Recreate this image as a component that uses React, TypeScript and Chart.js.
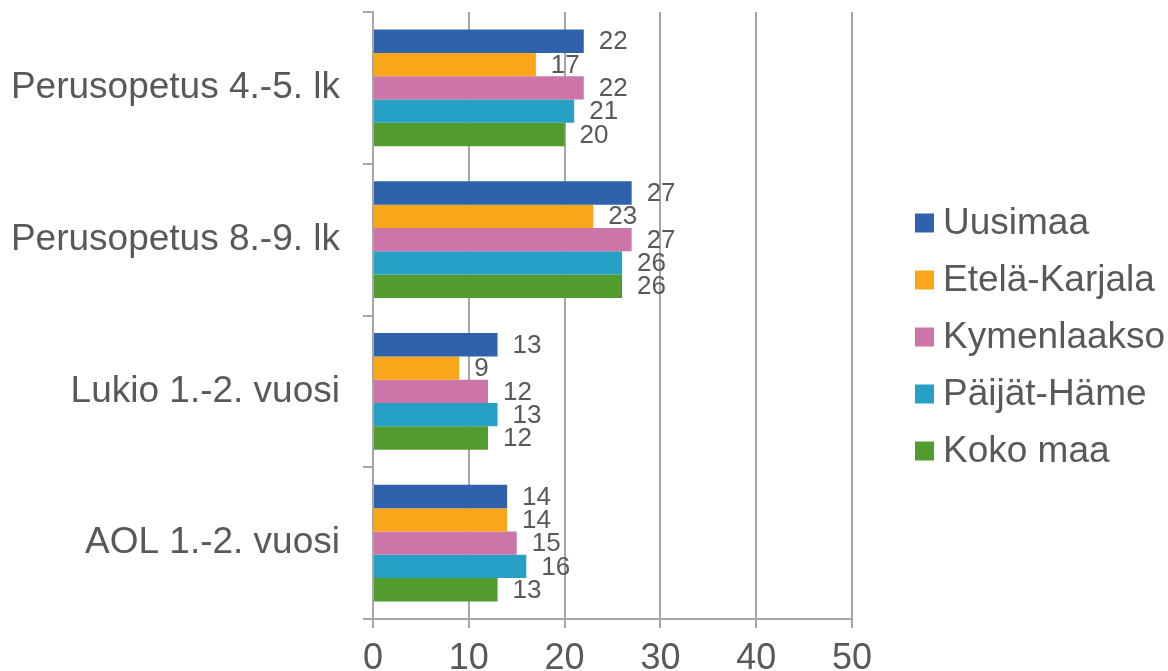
import React, { useEffect, useRef } from "react";
import { Chart, registerables } from "chart.js";

Chart.register(...registerables);

const categories = [
  "Perusopetus 4.-5. lk",
  "Perusopetus 8.-9. lk",
  "Lukio 1.-2. vuosi",
  "AOL 1.-2. vuosi",
];
const seriesNames = ["Uusimaa", "Etelä-Karjala", "Kymenlaakso", "Päijät-Häme", "Koko maa"];
const uusimaa = [22, 27, 13, 14];
const etelaKarjala = [17, 23, 9, 14];
const kymenlaakso = [22, 27, 12, 15];
const paijatHame = [21, 26, 13, 16];
const kokoMaa = [20, 26, 12, 13];
const seriesValues = [uusimaa, etelaKarjala, kymenlaakso, paijatHame, kokoMaa];
const seriesColors = ["#2F62AD", "#F9A61A", "#CB75A8", "#26A0C4", "#529B2F"];
const xTicks = [0, 10, 20, 30, 40, 50];

const FONT = "'Liberation Sans', Arial, sans-serif";
const TEXT = "#595959";
const GRID = "#A6A6A6";

const valueLabels = {
  id: "valueLabels",
  afterDatasetsDraw(chart: any) {
    const ctx = chart.ctx;
    ctx.save();
    ctx.font = `26px ${FONT}`;
    ctx.fillStyle = TEXT;
    ctx.textAlign = "left";
    ctx.textBaseline = "middle";
    chart.data.datasets.forEach((ds: any, i: number) => {
      const meta = chart.getDatasetMeta(i);
      meta.data.forEach((el: any, j: number) => {
        ctx.fillText(String(ds.data[j]), el.x + 15, el.y + 1);
      });
    });
    ctx.restore();
  },
};

const customLegend = {
  id: "customLegend",
  afterDraw(chart: any) {
    const ctx = chart.ctx;
    ctx.save();
    ctx.font = `37px ${FONT}`;
    ctx.textAlign = "left";
    ctx.textBaseline = "middle";
    chart.data.datasets.forEach((ds: any, i: number) => {
      const cy = 223 + i * 57;
      ctx.fillStyle = ds.backgroundColor;
      ctx.fillRect(915, cy - 9.5, 19, 19);
      ctx.fillStyle = TEXT;
      ctx.fillText(ds.label, 943, cy + 1);
    });
    ctx.restore();
  },
};

export default function App() {
  const canvasRef = useRef<HTMLCanvasElement | null>(null);

  useEffect(() => {
    if (!canvasRef.current) return;
    Chart.defaults.font.family = FONT;
    const chart = new Chart(canvasRef.current, {
      type: "bar",
      data: {
        labels: categories,
        datasets: seriesNames.map((name, i) => ({
          label: name,
          data: seriesValues[i],
          backgroundColor: seriesColors[i],
          borderWidth: 0,
          categoryPercentage: 0.768,
          barPercentage: 1,
        })),
      },
      options: {
        indexAxis: "y",
        responsive: false,
        animation: false,
        layout: { padding: { left: 0, top: 12, right: 316, bottom: 0 } },
        plugins: {
          legend: { display: false },
          tooltip: { enabled: false },
        },
        scales: {
          x: {
            min: 0,
            max: 50,
            afterBuildTicks(scale: any) {
              scale.ticks = xTicks.map((v) => ({ value: v }));
            },
            ticks: {
              color: TEXT,
              font: { size: 36, family: FONT },
              padding: 9,
              maxRotation: 0,
            },
            grid: {
              color: GRID,
              lineWidth: 2,
              drawTicks: true,
              tickLength: 9,
              tickColor: GRID,
            },
            border: { display: true, color: GRID, width: 2 },
            afterFit(scale: any) {
              scale.height = 52;
              scale.paddingLeft = 0;
              scale.paddingRight = 0;
            },
          },
          y: {
            ticks: {
              color: TEXT,
              font: { size: 37, family: FONT },
              padding: 23,
            },
            grid: {
              offset: true,
              drawOnChartArea: false,
              drawTicks: true,
              tickLength: 10,
              color: GRID,
              lineWidth: 2,
            },
            border: { display: true, color: GRID, width: 2 },
            afterFit(scale: any) {
              scale.width = 373;
              scale.paddingTop = 0;
              scale.paddingBottom = 0;
            },
          },
        },
      },
      plugins: [valueLabels, customLegend],
    });
    return () => chart.destroy();
  }, []);

  return (
    <div style={{ position: "fixed", left: 0, top: 0, width: 1168, height: 671, background: "#fff" }}>
      <canvas ref={canvasRef} width={1168} height={671} style={{ display: "block" }} />
    </div>
  );
}
